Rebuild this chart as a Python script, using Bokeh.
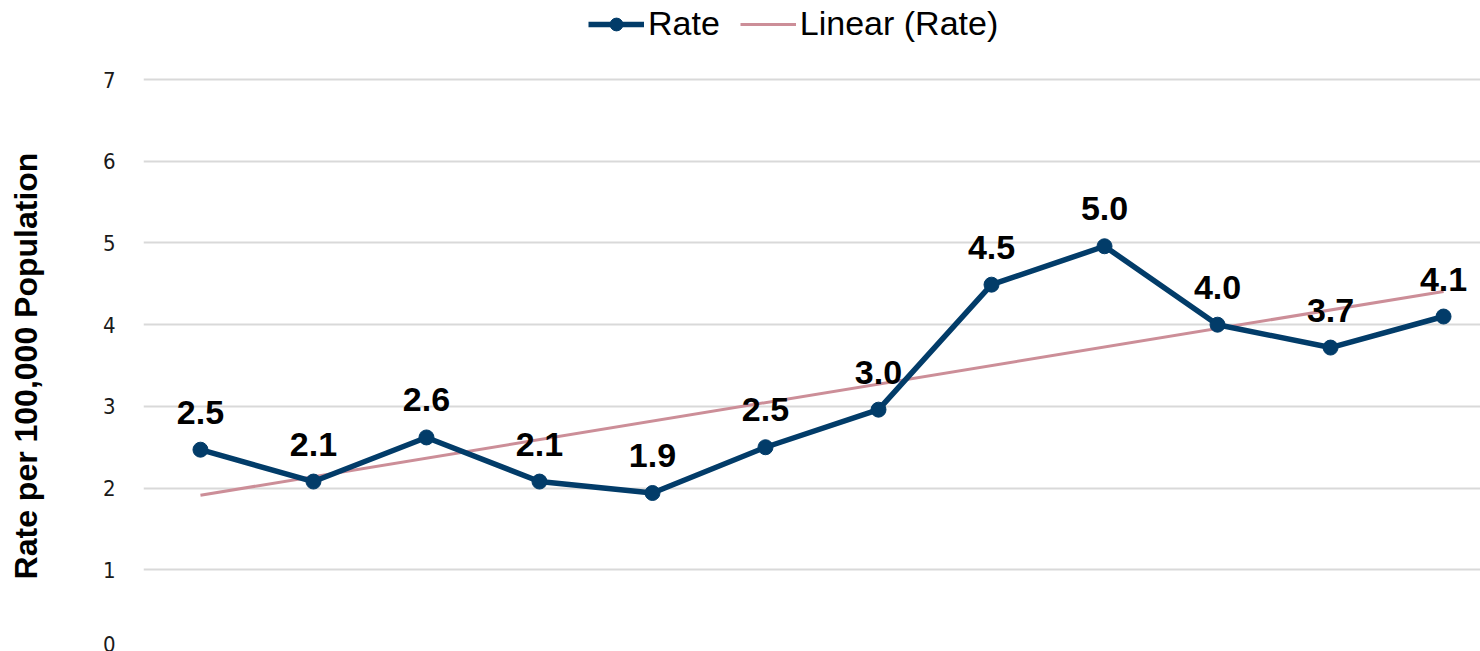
import numpy as np
from bokeh.plotting import figure
from bokeh.models import ColumnDataSource, LabelSet, Legend, LegendItem, Range1d, FixedTicker
from bokeh.core.properties import value
from bokeh.embed import file_html
from bokeh.resources import INLINE

# data
years = list(range(12))
rates = [2.47, 2.08, 2.62, 2.08, 1.94, 2.50, 2.96, 4.49, 4.96, 4.00, 3.72, 4.10]
rate_labels = ["%.1f" % r for r in rates]
y_ticks = [0, 1, 2, 3, 4, 5, 6, 7]
y_title = "Rate per 100,000 Population"

xs = np.array(years, dtype=float)
slope, intercept = np.polyfit(xs, np.array(rates), 1)
trend_x = [xs[0], xs[-1]]
trend_y = [intercept + slope * xs[0], intercept + slope * xs[-1]]

NAVY = "#023C69"
PINK = "#CC8E98"

p = figure(width=1480, height=651, output_backend="svg", toolbar_location=None,
           x_range=Range1d(-0.504, 11.327), y_range=Range1d(0, 7.968),
           min_border_left=143, min_border_right=0, min_border_top=0, min_border_bottom=0)
p.xaxis.visible = False
p.xgrid.visible = False
p.outline_line_color = None
p.background_fill_color = "white"
p.border_fill_color = "white"

p.yaxis.ticker = FixedTicker(ticks=y_ticks)
p.yaxis.axis_line_color = None
p.yaxis.major_tick_line_color = None
p.yaxis.minor_tick_line_color = None
p.yaxis.major_label_text_font = "DejaVu Sans Condensed, Roboto, sans-serif"
p.yaxis.major_label_text_font_size = "22px"
p.yaxis.major_label_text_color = "#1a1a1a"
p.yaxis.major_label_standoff = 22
# trailing no-break spaces shift the centred title down to match the reference
p.yaxis.axis_label = y_title + "\u00a0" * 9
p.yaxis.axis_label_text_font = "Liberation Sans"
p.yaxis.axis_label_text_font_style = "bold"
p.yaxis.axis_label_text_font_size = "32px"
p.yaxis.axis_label_text_color = "black"
p.yaxis.axis_label_standoff = 56
p.ygrid.grid_line_color = "#D9D9D9"
p.ygrid.grid_line_width = 2

src = ColumnDataSource(dict(x=years, y=rates, lab=rate_labels))

tr = p.line(trend_x, trend_y, line_color=PINK, line_width=3)
ln = p.line("x", "y", source=src, line_color=NAVY, line_width=5.5)
sc = p.scatter("x", "y", source=src, size=15, fill_color=NAVY, line_color=NAVY)

labels = LabelSet(x="x", y="y", text="lab", source=src, y_offset=26,
                  text_align="center", text_baseline="alphabetic",
                  text_font=value("Liberation Sans"), text_font_style="bold",
                  text_font_size="34px", text_color="black")
p.add_layout(labels)

legend = Legend(items=[LegendItem(label="Rate", renderers=[ln, sc]),
                       LegendItem(label="Linear (Rate)", renderers=[tr])],
                orientation="horizontal", location=(445, 608),
                label_text_font="Liberation Sans", label_text_font_size="34px",
                label_text_color="black", glyph_width=56, glyph_height=32,
                label_standoff=4, spacing=20, padding=2, margin=0,
                background_fill_alpha=0, border_line_color=None)
p.add_layout(legend)

open("out.html", "w").write(file_html(p, INLINE))
